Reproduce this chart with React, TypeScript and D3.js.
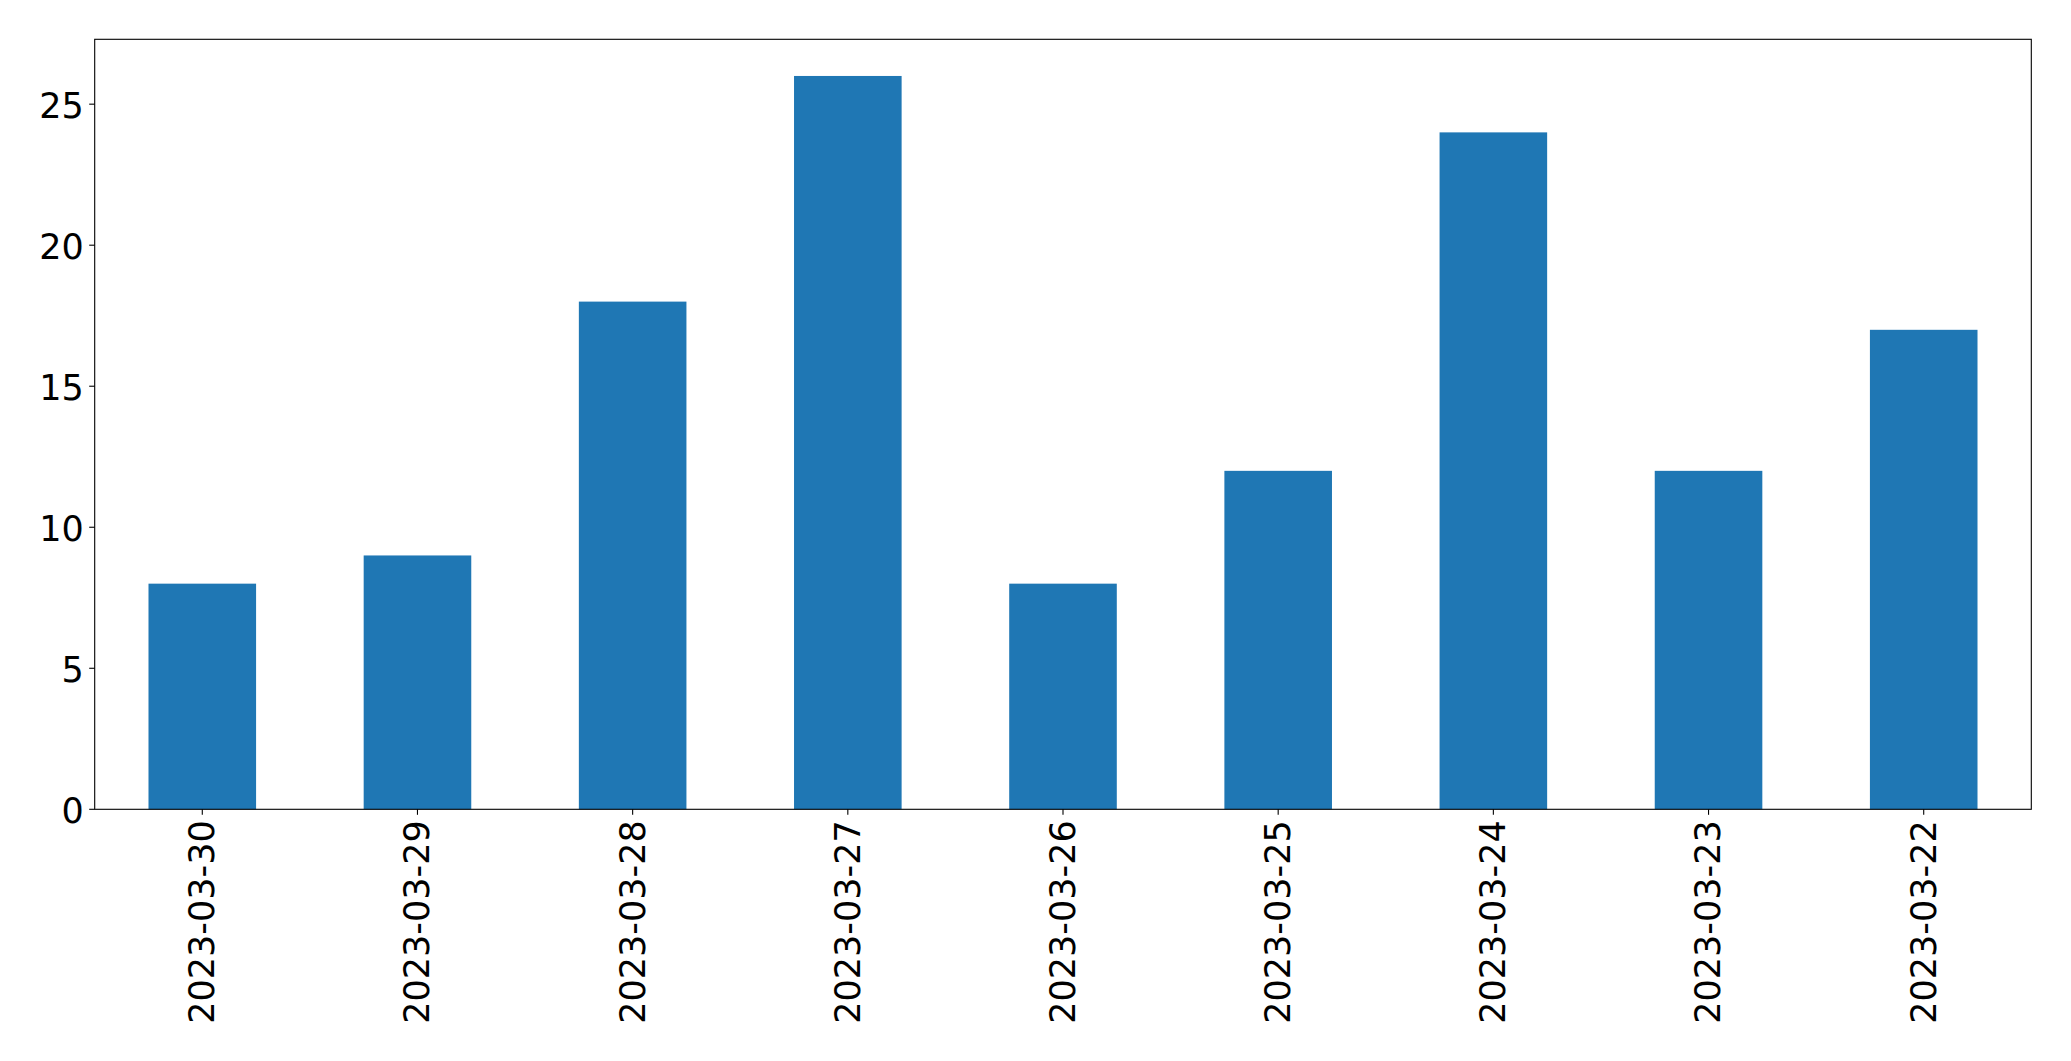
import React from "react";
import * as d3 from "d3";

const categories = ["2023-03-30","2023-03-29","2023-03-28","2023-03-27","2023-03-26","2023-03-25","2023-03-24","2023-03-23","2023-03-22"];
const values = [8, 9, 18, 26, 8, 12, 24, 12, 17];
const yTicks = [0, 5, 10, 15, 20, 25];

const W = 2071, H = 1061;
const L = 94.7, R = 2031.3, T = 39.3, B = 809.3;
const FS = 35;
const FONT = "DejaVu Sans, sans-serif";

export default function App() {
  const n = categories.length;
  const x = d3.scaleLinear().domain([-0.5, n - 0.5]).range([L, R]);
  const y = d3.scaleLinear().domain([0, d3.max(values)! * 1.05]).range([B, T]);
  const bw = x(0.25) - x(-0.25);
  return (
    <svg width={W} height={H} style={{ position: "absolute", left: 0, top: 0 }}>
      <rect x={0} y={0} width={W} height={H} fill="#fff" />
      {values.map((v, i) => (
        <rect key={i} x={x(i) - bw / 2} y={y(v)} width={bw} height={B - y(v)} fill="#1f77b4" />
      ))}
      <rect x={L} y={T} width={R - L} height={B - T} fill="none" stroke="#000" strokeWidth={1.1} />
      {yTicks.map((t) => (
        <g key={t}>
          <line x1={L - 5.5} x2={L} y1={y(t)} y2={y(t)} stroke="#000" strokeWidth={1.1} />
          <text x={L - 11} y={y(t)} dy="0.4em" textAnchor="end" fontFamily={FONT} fontSize={FS} fill="#000">{t}</text>
        </g>
      ))}
      {categories.map((c, i) => (
        <g key={c}>
          <line x1={x(i)} x2={x(i)} y1={B} y2={B + 5.5} stroke="#000" strokeWidth={1.1} />
          <text transform={`translate(${x(i)},${B + 11}) rotate(-90)`} dy="0.34em" textAnchor="end" fontFamily={FONT} fontSize={FS} fill="#000">{c}</text>
        </g>
      ))}
    </svg>
  );
}
